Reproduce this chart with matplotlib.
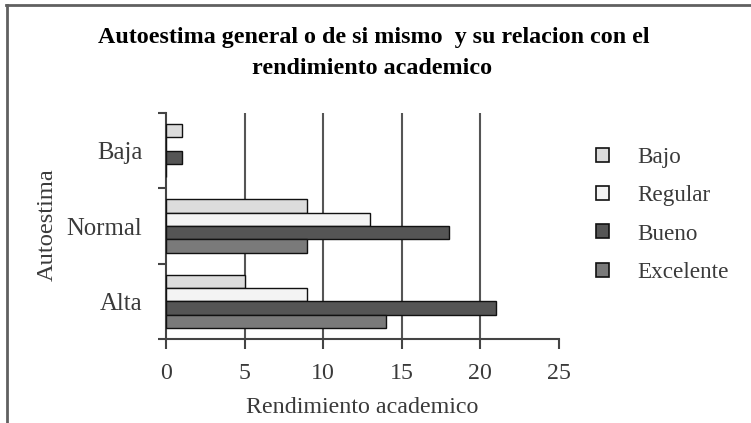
import matplotlib
matplotlib.use('Agg')
import matplotlib.pyplot as plt
from matplotlib.lines import Line2D
from matplotlib.patches import Patch
import numpy as np

# categories bottom -> top as drawn
autoestima = ['Alta', 'Normal', 'Baja']
series     = ['Bajo', 'Regular', 'Bueno', 'Excelente']
bajo       = [5, 9, 1]
regular    = [9, 13, 0]
bueno      = [21, 18, 1]
excelente  = [14, 9, 0]
x_ticks    = [0, 5, 10, 15, 20, 25]

colors = ['#dcdcdc', '#f3f3f3', '#555555', '#7a7a7a']
text_col = '#3a3a3a'
plt.rcParams['font.family'] = ['Liberation Serif', 'DejaVu Serif']

fig = plt.figure(figsize=(7.51, 4.23), dpi=100, facecolor='white')
ax = fig.add_axes([166 / 751, 1 - 339 / 423, 393 / 751, 226 / 423])

y = np.arange(len(autoestima))
h = 0.177
offsets = [1.5 * h, 0.5 * h, -0.5 * h, -1.5 * h]
for vals, off, col, name in zip([bajo, regular, bueno, excelente],
                                offsets, colors, series):
    ax.barh(y + off, vals, height=h, color=col, edgecolor='#111111',
            linewidth=1.0, label=name, zorder=3)

ax.set_xlim(0, 25)
ax.set_ylim(-0.5, 2.5)
ax.set_xticks(x_ticks)
ax.set_xticklabels([str(v) for v in x_ticks])

# gridlines (not at 0 or 25)
for v in x_ticks[1:-1]:
    ax.axvline(v, color='#555555', linewidth=1.5, zorder=1)

# category boundary ticks + centred labels
ax.set_yticks([-0.5, 0.5, 1.5, 2.5])
ax.set_yticklabels([])
ax.set_yticks(y, minor=True)
ax.set_yticklabels(autoestima, minor=True)
ax.tick_params(axis='y', which='major', length=6, width=1.5, color='#444444')
ax.tick_params(axis='y', which='minor', length=0, pad=17,
               labelsize=17.8, labelcolor=text_col)
ax.tick_params(axis='x', length=7, width=1.5, color='#444444', pad=10.5,
               labelsize=17.2, labelcolor=text_col)

for s in ['top', 'right']:
    ax.spines[s].set_visible(False)
for s in ['left', 'bottom']:
    ax.spines[s].set_color('#444444')
    ax.spines[s].set_linewidth(1.5)

ax.set_ylabel('Autoestima', fontsize=17.6, color=text_col)
ax.yaxis.set_label_coords(-0.302, 0.505)
ax.yaxis.label.set_va('center')
ax.set_xlabel('Rendimiento academico', fontsize=17.3, color=text_col)
ax.xaxis.set_label_coords(0.5, -0.305)
ax.xaxis.label.set_va('center')

fig.text(374 / 751, 1 - 37 / 423,
         'Autoestima general o de si mismo  y su relacion con el',
         ha='center', va='center', fontsize=17.3, fontweight='bold',
         color='black')
fig.text(372 / 751, 1 - 69 / 423, 'rendimiento academico',
         ha='center', va='center', fontsize=17.3, fontweight='bold',
         color='black')

handles = [Patch(facecolor=c, edgecolor='#111111', linewidth=1.2)
           for c in colors]
fig.legend(handles, series, loc='center left',
           bbox_to_anchor=(575 / 751, 1 - 215 / 423), frameon=False,
           fontsize=16.7, handlelength=0.55, handleheight=0.55,
           handletextpad=1.25, labelspacing=0.74, labelcolor=text_col)

# outer frame (left and top only visible)
fig.add_artist(Line2D([7 / 751, 7 / 751], [0, 1 - 5 / 423],
                      color='#606060', linewidth=2))
fig.add_artist(Line2D([6 / 751, 1], [1 - 5 / 423, 1 - 5 / 423],
                      color='#606060', linewidth=2))

fig.savefig('out.png', dpi=100, facecolor='white')
